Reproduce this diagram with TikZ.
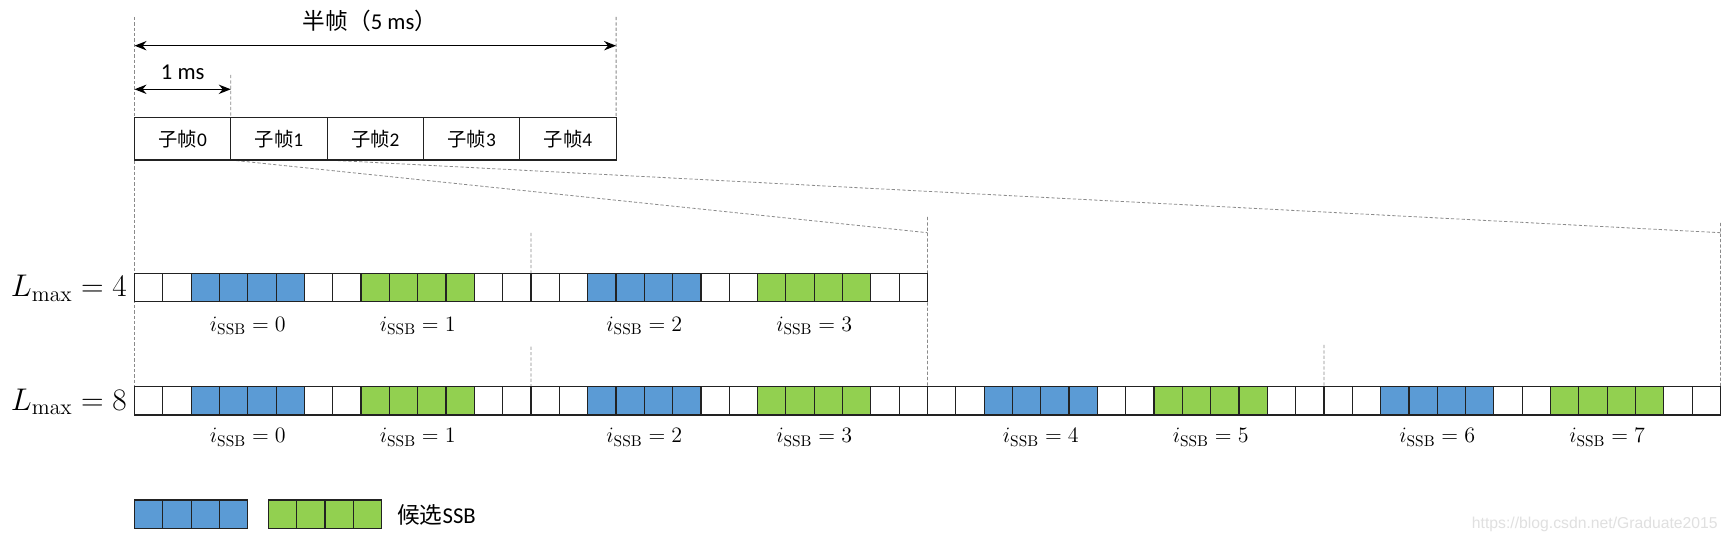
\RequirePackage{fix-cm}
\documentclass[tikz,border=0pt]{standalone}
\usepackage[no-math]{fontspec}
\setmainfont{Carlito}
\newfontfamily\cjk{Noto Sans CJK SC}
\newfontfamily\wmfont{Liberation Sans}
\usetikzlibrary{arrows.meta,backgrounds}
\definecolor{ssbblue}{HTML}{5B9BD5}
\definecolor{ssbgreen}{HTML}{92D050}
\definecolor{linec}{HTML}{222222}
\definecolor{guidec}{HTML}{8A8A8A}
\definecolor{wmc}{HTML}{E0E0E0}
\tikzset{
  cellbox/.style={draw=linec, line width=0.9pt, minimum width=21.24pt, minimum height=21.24pt,
    inner sep=0pt, outer sep=0pt, anchor=north west},
  subbox/.style={draw=linec, line width=0.9pt, minimum width=72.24pt, minimum height=31.6pt,
    inner sep=0pt, outer sep=0pt, anchor=north west, fill=white, font=\fontsize{14.5}{16}\selectfont},
  guide/.style={draw=guidec, line width=0.6pt, dash pattern=on 2.4pt off 1.6pt},
  dim/.style={draw=black, line width=1.1pt, {Stealth[length=9pt,width=7pt]}-{Stealth[length=9pt,width=7pt]}},
  biglabel/.style={font=\fontsize{17}{20}\selectfont, inner sep=0pt},
  rowlabel/.style={font=\fontsize{23.5}{27}\selectfont, inner sep=0pt, anchor=base east},
  idxlabel/.style={font=\fontsize{16.5}{19}\selectfont, inner sep=0pt, anchor=base},
}
\begin{document}
\begin{tikzpicture}[x=0.75pt,y=-0.75pt]
\useasboundingbox (0,0) rectangle (1728,541);

% sub-frames
\foreach \j in {0,...,4}{
  \node[subbox] (sf\j) at ({134.5+\j*96.32},117.9) {{\cjk 子帧}\j};
}

% row Lmax = 4
\foreach \i in {0,...,27}{
  \pgfmathtruncatemacro\m{mod(\i,14)}
  \def\fc{white}
  \ifnum\m>1 \ifnum\m<6 \def\fc{ssbblue}\fi\fi
  \ifnum\m>7 \ifnum\m<12 \def\fc{ssbgreen}\fi\fi
  \node[cellbox, fill=\fc] (a\i) at ({134.5+\i*28.32},273.3) {};
}
% row Lmax = 8
\foreach \i in {0,...,55}{
  \pgfmathtruncatemacro\m{mod(\i,14)}
  \def\fc{white}
  \ifnum\m>1 \ifnum\m<6 \def\fc{ssbblue}\fi\fi
  \ifnum\m>7 \ifnum\m<12 \def\fc{ssbgreen}\fi\fi
  \node[cellbox, fill=\fc] (b\i) at ({134.5+\i*28.32},386.7) {};
}

% row labels
\node[rowlabel] (L4) at (127,296.7) {$L_{\mathrm{max}} = 4$};
\node[rowlabel] (L8) at (127,410.1) {$L_{\mathrm{max}} = 8$};

% index labels
\foreach \k in {0,...,3}{
  \pgfmathsetmacro\cx{134.5+28.32*(14*floor(\k/2)+4+6*mod(\k,2))}
  \node[idxlabel] (ia\k) at (\cx,331.5) {$i_{\mathrm{SSB}} = \k$};
}
\foreach \k in {0,...,7}{
  \pgfmathsetmacro\cx{134.5+28.32*(14*floor(\k/2)+4+6*mod(\k,2))}
  \node[idxlabel] (ib\k) at (\cx,443) {$i_{\mathrm{SSB}} = \k$};
}

% dimension arrows
\coordinate (hL) at (134.5,45.7);
\coordinate (hR) at (616.1,45.7);
\draw[dim] (hL) -- (hR);
\node[biglabel, anchor=base] (half) at (370,29.5) {{\cjk 半帧（}5 ms{\cjk ）}};
\coordinate (mL) at (134.5,89.3);
\coordinate (mR) at (230.8,89.3);
\draw[dim] (mL) -- (mR);
\node[biglabel, anchor=base] (onems) at (182.7,80) {1 ms};

% legend
\foreach \i in {0,...,3}{
  \node[cellbox, fill=ssbblue] (lb\i) at ({134.5+\i*28.32},500) {};
  \node[cellbox, fill=ssbgreen] (lg\i) at ({268.3+\i*28.32},500) {};
}
\node[biglabel, anchor=base west] (lgt) at (397,523.5) {{\cjk 候选}SSB};

% watermark
\node[inner sep=0pt, anchor=base east, text=wmc, font=\wmfont\fontsize{11.8}{14}\selectfont] (wm) at (1718,528.5) {https://blog.csdn.net/Graduate2015};

% guide lines (behind)
\begin{scope}[on background layer]
  \fill[white] (0,0) rectangle (1728,541);
  \coordinate (topL) at (134.5,17);
  \coordinate (topR) at (616.1,17);
  \coordinate (msR) at (230.8,75);
  \coordinate (d1) at (927.46,232.7);
  \coordinate (d2) at (1720.4,232.7);
  \coordinate (v1) at (927.46,217);
  \coordinate (v2) at (1720.4,223);
  \coordinate (m1) at (531,233);
  \coordinate (m2) at (531,346.7);
  \coordinate (m3) at (1323.94,345);
  \draw[guide] (topL) -- (b0.north west);
  \draw[guide] (topR) -- (sf4.north east);
  \draw[guide] (msR) -- (sf0.north east);
  \draw[guide] (sf0.south east) -- (d1);
  \draw[guide] (sf1.south east) -- (d2);
  \draw[guide] (v1) -- (b27.north east);
  \draw[guide] (v2) -- (b55.north east);
  \draw[guide] (m1) -- (a13.north east);
  \draw[guide] (m2) -- (b13.north east);
  \draw[guide] (m3) -- (b41.north east);
\end{scope}
\end{tikzpicture}
\end{document}
